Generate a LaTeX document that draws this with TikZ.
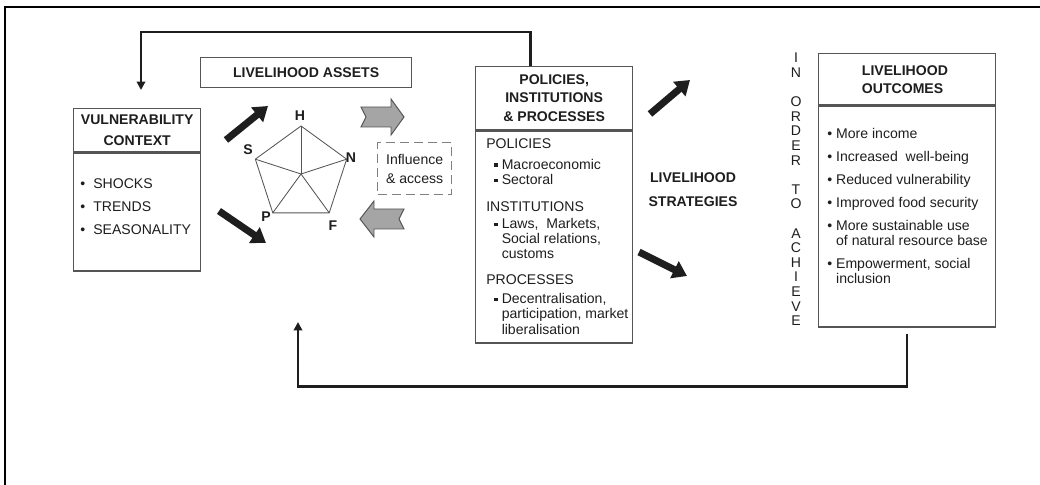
\documentclass[tikz,border=0pt]{standalone}
\usepackage{fontspec}
\setmainfont{Liberation Sans}
\usetikzlibrary{arrows.meta,calc}
\definecolor{grisfonce}{RGB}{85,85,85}
\definecolor{gris}{RGB}{165,165,165}
\definecolor{noir}{RGB}{30,30,30}
\newcommand{\puce}[1]{\makebox[#1][l]{\textbullet}}
\newcommand{\carre}{\hspace*{5.6pt}\makebox[5.4pt][l]{\rule[1.6pt]{2.4pt}{2.4pt}}}
\newcommand{\retrait}{\hspace*{11pt}}

\begin{document}
\begin{tikzpicture}[x=0.025cm, y=-0.025cm, text=noir,
    boite/.style={draw=grisfonce, line width=0.9pt, anchor=north west, inner sep=0pt},
    titre/.style={font=\bfseries, align=center},
    texte/.style={anchor=north west, inner sep=0pt, align=left},
    lettre/.style={font=\bfseries, inner sep=0pt},
    pentagone/.style={draw=grisfonce, line width=0.6pt},
    retour/.style={draw=noir, line width=1.8pt, -{Triangle[length=6pt,width=6pt]}},
    epaisse/.style={draw=noir, line width=5pt, -{Triangle[length=10pt,width=13pt]}},
    bloc/.style={fill=gris, draw=grisfonce, line width=0.7pt},
    cadre/.style={draw=black, line width=1.6pt}]
                \useasboundingbox (0,0) rectangle (1040,485);

                % cadre
                \draw[cadre] (5,485) -- (5,7) -- (1040,7);

                % contexte de vulnerabilite
                \node[boite, titre, minimum width=3.175cm, minimum height=1.075cm] (vulnt) at (73,108) {VULNERABILITY\\[3pt]CONTEXT};
                \node[boite, minimum width=3.175cm, minimum height=2.95cm] (vulnb) at (vulnt.south west) {};
                \node[texte] (vulnliste) at (80,178) {\puce{9.3pt}SHOCKS\\[4.4pt]\puce{9.3pt}TRENDS\\[4.4pt]\puce{9.3pt}SEASONALITY};

                % actifs
                \node[boite, titre, minimum width=5.275cm, minimum height=0.75cm] (actifs) at (200,57) {LIVELIHOOD ASSETS};

                % pentagone des actifs
                \coordinate (centre) at (301,174);
                \foreach \nom/\angle in {H/-90,N/-18,F/54,P/126,S/198}
                    \coordinate (\nom) at ($(centre)+(\angle:48)$);
                \draw[pentagone] (H) -- (N) -- (F) -- (P) -- (S) -- cycle;
                \foreach \nom in {H,N,F,P,S}
                    \draw[pentagone] (centre) -- (\nom);
                \node[lettre] (lH) at (300,116) {H};
                \node[lettre] (lN) at (351,158) {N};
                \node[lettre] (lF) at (333,226) {F};
                \node[lettre] (lP) at (266,217) {P};
                \node[lettre] (lS) at (248,150) {S};

                % fleches grises
                \filldraw[bloc] (361,107) -- (391,107) -- (391,99) -- (404,117) -- (391,135) -- (391,127) -- (361,127) -- (366,117) -- cycle;
                \filldraw[bloc] (404,209) -- (374,209) -- (374,201) -- (360,219) -- (374,237) -- (374,229) -- (404,229) -- (399,219) -- cycle;

                % influence
                \node[boite, draw=gray, dash pattern=on 6.5pt off 3.5pt, minimum width=1.85cm, minimum height=1.3cm, align=left] (influence) at (377,142) {Influence\\[1.5pt]\& access};

                % politiques, institutions
                \node[boite, titre, minimum width=3.925cm, minimum height=1.575cm] (pipt) at (475,66) {POLICIES,\\[1.2pt]INSTITUTIONS\\[1.2pt]\& PROCESSES};
                \node[boite, minimum width=3.925cm, minimum height=5.3cm] (pipb) at (pipt.south west) {};
                \node[texte, font=\fontsize{10}{10.8}\selectfont] (pipliste) at (486,138) {POLICIES\\[4.1pt]\carre Macroeconomic\\\carre Sectoral\\[8.4pt]INSTITUTIONS\\[1.3pt]\carre Laws,~~Markets,\\\retrait Social relations,\\\retrait customs\\[7.7pt]PROCESSES\\[2.7pt]\carre Decentralisation,\\\retrait participation, market\\\retrait liberalisation};

                % strategies
                \node[titre] (strategies) at (693,190) {LIVELIHOOD\\[5pt]STRATEGIES};

                % texte vertical
                \foreach \lettre [count=\i] in {I,N,{},O,R,D,E,R,{},T,O,{},A,C,H,I,E,V,E}
                    \node[inner sep=0pt] (ordre\i) at (796,{58+(\i-1)*14.6}) {\lettre};

                % resultats
                \node[boite, minimum width=4.425cm, minimum height=1.275cm] (outt) at (818,53) {};
                \node[titre, align=left, anchor=west] (outtitre) at (857,80) {LIVELIHOOD\\[0.8pt]OUTCOMES};
                \node[boite, minimum width=4.425cm, minimum height=5.525cm] (outb) at (outt.south west) {};
                \node[texte, font=\fontsize{10}{10.6}\selectfont] (outliste) at (827,128) {\puce{6.3pt}More income\\[5.8pt]\puce{6.3pt}Increased~~well-being\\[5.8pt]\puce{6.3pt}Reduced vulnerability\\[5.8pt]\puce{6.3pt}Improved food security\\[5.8pt]\puce{6.3pt}More sustainable use\\\hspace*{6.3pt}of natural resource base\\[5.8pt]\puce{6.3pt}Empowerment, social\\\hspace*{6.3pt}inclusion};

                % fleches noires
                \draw[epaisse] (226,140) -- (268,106);
                \draw[epaisse] (219,211) -- (266,243);
                \draw[epaisse] (650,114) -- (690,80);
                \draw[epaisse] (639,252) -- (687,276);

                % retours
                \coordinate (vulnfleche) at (141,90);
                \coordinate (actifsfleche) at (298,322);
                \draw[retour] ($(pipt.north west)!0.35!(pipt.north east)$) -- ++(0,-34) -| (vulnfleche);
                \draw[retour] ($(outb.south)+(0,6)$) -- ++(0,53) -| (actifsfleche);
\end{tikzpicture}
\end{document}
